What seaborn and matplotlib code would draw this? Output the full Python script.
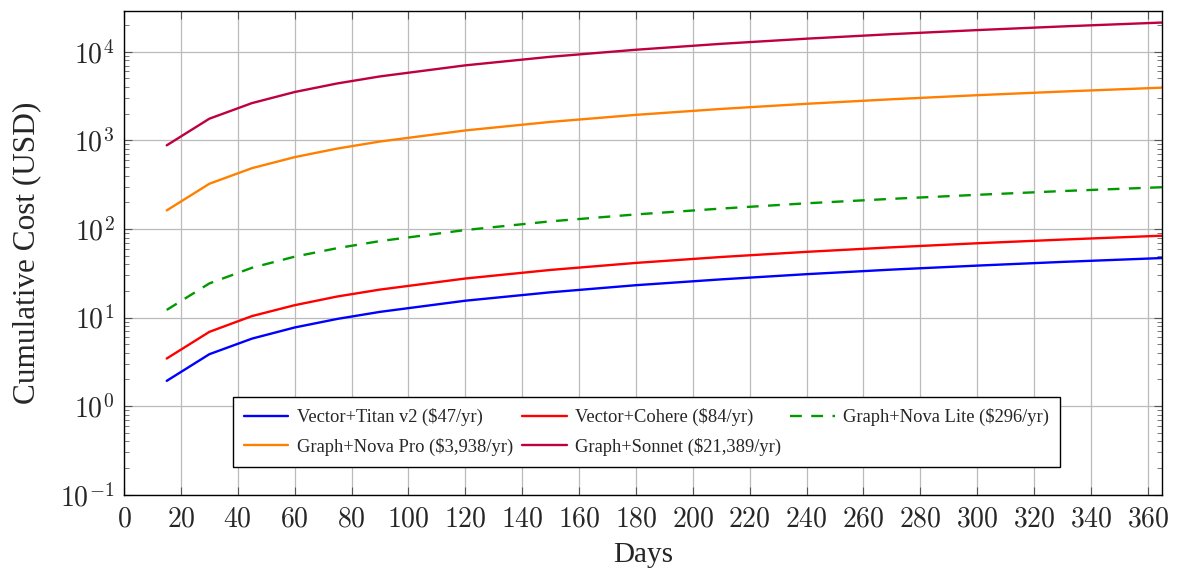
import math
import matplotlib
matplotlib.use("Agg")
import matplotlib.pyplot as plt
import matplotlib.ticker as mticker
import seaborn as sns
import pandas as pd

# days sampled and cumulative cost (USD) per pipeline
days = [15, 30, 45, 60, 75, 90, 120, 150, 180, 210, 240, 270, 300, 330, 365]
titan = [1.93, 3.86, 5.79, 7.73, 9.66, 11.6, 15.5, 19.3, 23.2, 27.0, 30.9, 34.8, 38.6, 42.5, 47.0]
cohere = [3.45, 6.90, 10.4, 13.8, 17.3, 20.7, 27.6, 34.5, 41.4, 48.3, 55.2, 62.1, 69.0, 75.9, 84.0]
nova_lite = [12.2, 24.3, 36.5, 48.7, 60.8, 73.0, 97.3, 122, 146, 170, 195, 219, 243, 268, 296]
nova_pro = [162, 324, 486, 647, 809, 971, 1295, 1618, 1942, 2266, 2589, 2913, 3237, 3560, 3938]
sonnet = [879, 1758, 2637, 3516, 4395, 5274, 7032, 8790, 10548, 12306, 14064, 15822, 17580, 19338, 21389]

labels = ["Vector+Titan v2 ($47/yr)", "Vector+Cohere ($84/yr)", "Graph+Nova Lite ($296/yr)",
          "Graph+Nova Pro ($3,938/yr)", "Graph+Sonnet ($21,389/yr)"]
series = [titan, cohere, nova_lite, nova_pro, sonnet]
colors = ["#0000ff", "#ff0000", "#009900", "#ff8000", "#bf0040"]

rows = []
for lab, vals in zip(labels, series):
    for d, v in zip(days, vals):
        rows.append({"Days": d, "cost": v, "pipeline": lab})
df = pd.DataFrame(rows)

sns.set_style("ticks")
plt.rcParams['font.family'] = ['Liberation Serif', 'DejaVu Serif']
plt.rcParams['mathtext.fontset'] = 'cm'

fig = plt.figure(figsize=(11.77, 5.70), dpi=100)
ax = fig.add_axes([0.1054, 0.132, 0.8819, 0.849])

palette = dict(zip(labels, colors))
dashes = {lab: "" for lab in labels}
dashes[labels[2]] = (5, 4)
sns.lineplot(data=df, x="Days", y="cost", hue="pipeline", style="pipeline",
             palette=palette, dashes=dashes, linewidth=1.7, ax=ax, legend=True)

ax.set_yscale("log")
ax.set_xlim(0, 365)
ax.set_ylim(0.1, 2.9e4)

ax.xaxis.set_major_locator(mticker.MultipleLocator(20))
ax.xaxis.set_major_formatter(mticker.FuncFormatter(lambda v, p: r"$%d$" % v))
ax.yaxis.set_major_locator(mticker.LogLocator(base=10, numticks=10))
ax.yaxis.set_minor_locator(mticker.LogLocator(base=10, subs=range(2, 10), numticks=20))
ax.yaxis.set_major_formatter(mticker.FuncFormatter(lambda v, p: r"$10^{%d}$" % round(math.log10(v))))
ax.yaxis.set_minor_formatter(mticker.NullFormatter())

ax.tick_params(axis="both", which="major", direction="in", length=6, width=0.8,
               color="#555555", top=True, right=True, labelsize=20)
ax.tick_params(axis="x", which="major", pad=9)
ax.tick_params(axis="y", which="major", pad=7)
ax.tick_params(axis="y", which="minor", direction="in", length=3.5, width=0.7,
               color="#777777", right=True, left=True)
ax.grid(True, which="major", color="#bbbbbb", linewidth=0.9)
for s in ax.spines.values():
    s.set_color("black")
    s.set_linewidth(1.0)

ax.set_xlabel("Days", fontsize=21)
ax.set_ylabel("Cumulative Cost (USD)", fontsize=22.5)
ax.xaxis.set_label_coords(0.5, -0.097)
ax.yaxis.set_label_coords(-0.08, 0.5)

handles, labs = ax.get_legend_handles_labels()
order = [0, 3, 1, 4, 2]  # fill rows first, like the reference
leg = ax.legend([handles[i] for i in order], [labs[i] for i in order], ncol=3,
                loc="lower left", bbox_to_anchor=(0.105, 0.058), borderaxespad=0,
                fontsize=13.3, frameon=True, fancybox=False, edgecolor="black",
                framealpha=1, handlelength=2.4, columnspacing=0.5, handletextpad=0.45,
                borderpad=0.6, labelspacing=0.6)
leg.get_frame().set_linewidth(1.0)

fig.savefig("out.png", dpi=100)
